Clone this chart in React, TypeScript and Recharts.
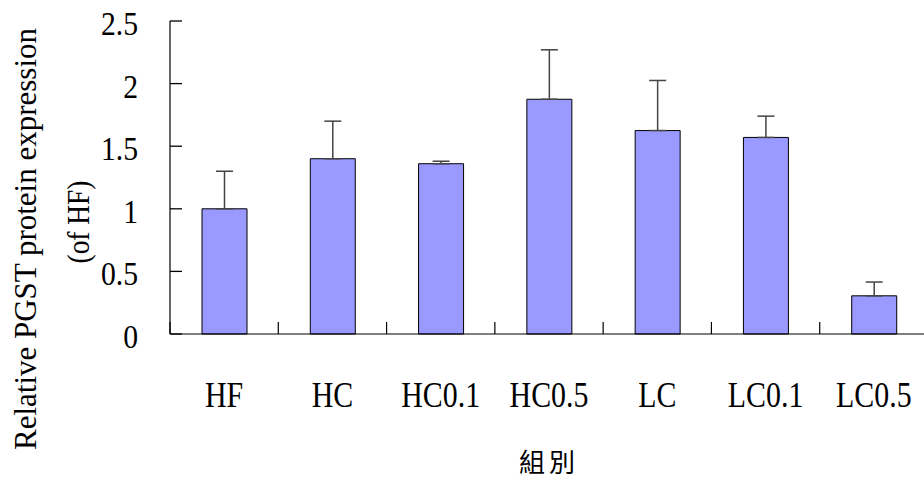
import { BarChart, Bar, XAxis, YAxis, ErrorBar } from 'recharts'

const groups = ['HF', 'HC', 'HC0.1', 'HC0.5', 'LC', 'LC0.1', 'LC0.5']
const means = [1.0, 1.4, 1.36, 1.875, 1.625, 1.57, 0.305]
const upperErr = [0.3, 0.3, 0.02, 0.395, 0.4, 0.17, 0.11]
const yTicks = [0, 0.5, 1, 1.5, 2, 2.5]

const data = groups.map((g, i) => ({ group: g, value: means[i], err: [0, upperErr[i]] }))

const serif = '"Liberation Serif", "Times New Roman", serif'

// category label plus the inward tick marks on the group boundaries
function XTick({ x, y, payload, width, visibleTicksCount, index }: any) {
  const half = payload.offset > 0 ? payload.offset : width / visibleTicksCount / 2
  const last = index === visibleTicksCount - 1
  return (
    <g>
      <path d={`M${x - half},${y}v-12`} stroke="#000" strokeWidth={1.2} />
      {last && <path d={`M${x + half},${y}v-12`} stroke="#000" strokeWidth={1.2} />}
      <text x={x} y={y + 73} textAnchor="middle" fontFamily={serif} fontSize={36} fill="#000"
        transform={`translate(${x} 0) scale(0.83 1) translate(${-x} 0)`}>
        {payload.value}
      </text>
    </g>
  )
}

// inward tick + label
function YTick({ x, y, payload }: any) {
  const tx = x - 32
  return (
    <g>
      <path d={`M${x},${y}H${x + 12}`} stroke="#000" strokeWidth={1.3} fill="none" />
      <text x={tx} y={y + 14} textAnchor="end" fontFamily={serif} fontSize={33} fill="#000"
        transform={`translate(${tx} 0) scale(0.9 1) translate(${-tx} 0)`}>
        {payload.value}
      </text>
    </g>
  )
}

function YTitle() {
  return (
    <g fontFamily={serif} fontSize={32} fill="#000">
      <text x={25} y={239} textAnchor="middle" dominantBaseline="central" textLength={422}
        lengthAdjust="spacingAndGlyphs" transform="rotate(-90 25 239)">
        Relative PGST protein expression
      </text>
      <text x={78} y={222} textAnchor="middle" dominantBaseline="central" textLength={83}
        lengthAdjust="spacingAndGlyphs" transform="rotate(-90 78 222)">
        (of HF)
      </text>
    </g>
  )
}

function XTitle({ viewBox }: any) {
  const cx = viewBox.x + viewBox.width / 2
  const cy = viewBox.y + viewBox.height - 17
  return (
    <text x={cx} y={cy} textAnchor="middle" dominantBaseline="central" fontFamily='"Noto Sans CJK TC", sans-serif'
      fontSize={26} letterSpacing={4} fill="#000">
      組別
    </text>
  )
}

export default function App() {
  return (
    <div style={{ position: 'fixed', left: 0, top: 0, width: 924, height: 477, overflow: 'hidden', background: '#fff' }}>
      <BarChart width={940} height={477} data={data} margin={{ top: 21, right: 12, bottom: 0, left: 0 }}>
        <XAxis dataKey="group" height={143} interval={0} tickLine={false} tickSize={0} tickMargin={0} tick={<XTick />}
          axisLine={{ stroke: '#000', strokeWidth: 1.2 }} label={<XTitle />} />
        <YAxis domain={[0, 2.5]} ticks={yTicks} interval={0} width={170} tickLine={false} tickSize={0} tickMargin={0}
          tick={<YTick />} axisLine={{ stroke: '#000', strokeWidth: 1.2 }} label={<YTitle />} />
        <Bar dataKey="value" fill="#9999FF" stroke="#000" strokeWidth={1} barSize={45} isAnimationActive={false}>
          <ErrorBar dataKey="err" direction="y" width={8.5} stroke="#444" strokeWidth={1.5} isAnimationActive={false} />
        </Bar>
      </BarChart>
    </div>
  )
}
